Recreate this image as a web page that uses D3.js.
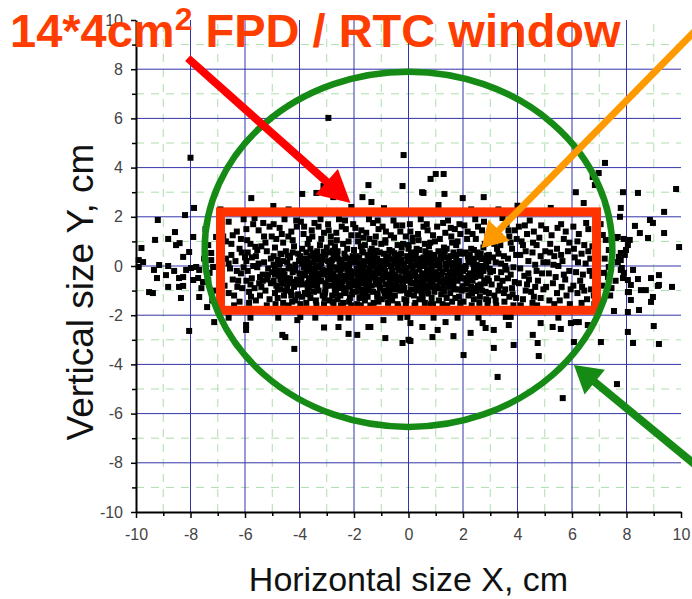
<!DOCTYPE html>
<html>
<head>
<meta charset="utf-8">
<script src="https://cdn.jsdelivr.net/npm/d3@7"></script>
<style>
  body { margin: 0; background: #fff; }
  svg { display: block; }
</style>
</head>
<body>
<svg id="chart" width="692" height="599"></svg>
<script>
// ---- axis setup ----
const xDomain = [-10, 10];
const yDomain = [-10, 10];
const majorTicks = [-10, -8, -6, -4, -2, 0, 2, 4, 6, 8, 10];
const minorTicks = [-9, -7, -5, -3, -1, 1, 3, 5, 7, 9];
const majorGrid = [-8, -6, -4, -2, 0, 2, 4, 6, 8];

// ---- beam spot hits (x, y in cm) ----
// dense core inside the detector window, grouped by 1 cm columns
const coreColumns = [
  [[-6.9,1.6],[-6.8,1.2],[-6.6,1.8],[-6.5,0.9],[-6.85,0.6],[-6.7,0.3],[-6.55,-0.1],[-6.9,-0.4],[-6.75,-0.8],[-6.6,-1.1],[-6.85,-1.4],[-6.4,-1.6],[-6.3,1.4],[-6.2,0.7],[-6.35,0.2],[-6.15,-0.3],[-6.25,-0.6],[-6.1,-0.9],[-6.4,-1.2],[-6.05,1.9],[-6.5,0.45],[-6.3,-0.2],[-6.6,0.1],[-6.2,-1.45],[-6.0,0.35],[-6.45,-0.55],[-6.05,-0.05],[-6.7,1.0],[-6.15,1.1]],
  [[-5.95,1.5],[-5.8,0.9],[-5.7,1.7],[-5.6,0.4],[-5.5,0.1],[-5.9,-0.2],[-5.75,-0.5],[-5.65,-0.9],[-5.45,-1.2],[-5.85,-1.5],[-5.3,1.2],[-5.2,0.6],[-5.15,-0.1],[-5.35,-0.35],[-5.05,-0.7],[-5.25,-1.0],[-5.1,1.6],[-5.4,0.8],[-5.55,-0.05],[-5.95,0.2],[-5.8,-0.75],[-5.6,-1.4],[-5.2,-1.6],[-5.05,0.3],[-5.5,1.45],[-5.9,0.55],[-5.35,-0.6],[-5.7,0.0],[-5.45,-0.45],[-5.15,-0.35],[-5.85,-1.05],[-5.25,0.95],[-5.65,1.95],[-5.0,-0.25],[-5.4,-0.85],[-5.75,0.35],[-5.1,-1.35],[-5.55,0.65],[-5.3,0.15],[-5.95,-0.6]],
  [[-4.95,1.7],[-4.85,1.1],[-4.7,0.5],[-4.6,0.2],[-4.9,-0.1],[-4.75,-0.4],[-4.65,-0.7],[-4.5,-1.0],[-4.8,-1.3],[-4.4,-1.6],[-4.3,1.4],[-4.2,0.8],[-4.35,0.35],[-4.15,0.05],[-4.25,-0.25],[-4.1,-0.55],[-4.45,-0.85],[-4.05,-1.15],[-4.55,1.9],[-4.9,0.75],[-4.6,-0.2],[-4.35,-0.5],[-4.7,-0.95],[-4.15,-1.4],[-4.8,0.25],[-4.5,0.6],[-4.25,1.05],[-4.95,-0.6],[-4.65,1.3],[-4.4,-0.1],[-4.05,0.5],[-4.85,-0.8],[-4.2,-0.85],[-4.55,-0.35],[-4.3,-1.2],[-4.75,0.05],[-4.1,1.6],[-4.6,-1.5],[-4.45,0.15],[-4.95,0.4],[-4.0,-0.3],[-4.7,-0.55],[-4.35,-0.7],[-4.15,-0.1],[-4.5,-0.6],[-4.8,-0.2],[-4.25,0.55],[-4.6,0.95],[-4.05,-0.75],[-4.9,-1.1]],
  [[-3.95,1.8],[-3.85,1.3],[-3.7,0.9],[-3.6,0.4],[-3.9,0.1],[-3.75,-0.2],[-3.65,-0.5],[-3.5,-0.8],[-3.8,-1.1],[-3.4,-1.4],[-3.3,1.6],[-3.2,1.1],[-3.35,0.6],[-3.15,0.25],[-3.25,-0.05],[-3.1,-0.35],[-3.45,-0.65],[-3.05,-0.95],[-3.55,1.45],[-3.9,0.7],[-3.6,-0.1],[-3.35,-0.3],[-3.7,-0.7],[-3.15,-1.2],[-3.8,0.3],[-3.5,0.15],[-3.25,0.85],[-3.95,-0.45],[-3.65,1.1],[-3.4,0.0],[-3.05,0.45],[-3.85,-0.75],[-3.2,-0.6],[-3.55,-0.4],[-3.3,-1.0],[-3.75,0.55],[-3.1,1.35],[-3.6,-1.3],[-3.45,0.35],[-3.95,0.2],[-3.0,-0.2],[-3.7,-0.95],[-3.35,-0.8],[-3.15,-0.15],[-3.5,-0.5],[-3.8,-0.3],[-3.25,0.35],[-3.6,0.7],[-3.05,-0.7],[-3.9,-1.25],[-3.45,1.75],[-3.1,-1.55],[-3.65,0.05],[-3.3,-0.45],[-3.85,-0.05],[-3.55,-0.25],[-3.2,0.1],[-3.75,-1.5],[-3.4,0.5],[-3.0,0.75]],
  [[-2.95,1.7],[-2.85,1.2],[-2.7,0.8],[-2.6,0.3],[-2.9,0.0],[-2.75,-0.3],[-2.65,-0.6],[-2.5,-0.9],[-2.8,-1.2],[-2.4,-1.5],[-2.3,1.5],[-2.2,1.0],[-2.35,0.5],[-2.15,0.15],[-2.25,-0.15],[-2.1,-0.45],[-2.45,-0.75],[-2.05,-1.05],[-2.55,1.9],[-2.9,0.55],[-2.6,-0.15],[-2.35,-0.4],[-2.7,-0.85],[-2.15,-1.3],[-2.8,0.25],[-2.5,0.05],[-2.25,0.7],[-2.95,-0.5],[-2.65,1.35],[-2.4,-0.05],[-2.05,0.4],[-2.85,-0.8],[-2.2,-0.7],[-2.55,-0.5],[-2.3,-1.1],[-2.75,0.45],[-2.1,1.25],[-2.6,-1.35],[-2.45,0.25],[-2.95,0.2],[-2.0,-0.25],[-2.7,-1.0],[-2.35,-0.9],[-2.15,-0.2],[-2.5,-0.35],[-2.8,-0.4],[-2.25,0.3],[-2.6,0.6],[-2.05,-0.6],[-2.9,-1.4],[-2.45,1.6],[-2.1,-1.6],[-2.65,-0.05],[-2.3,-0.55],[-2.85,-0.15],[-2.55,-0.7],[-2.2,-0.35],[-2.75,-1.55],[-2.4,0.9],[-2.0,0.65],[-2.5,-1.2],[-2.3,0.05],[-2.85,0.95],[-2.15,-0.85],[-2.7,-0.45]],
  [[-1.95,1.55],[-1.85,1.0],[-1.7,0.6],[-1.6,0.2],[-1.9,-0.1],[-1.75,-0.4],[-1.65,-0.7],[-1.5,-1.0],[-1.8,-1.3],[-1.4,-1.6],[-1.3,1.75],[-1.2,1.2],[-1.35,0.7],[-1.15,0.3],[-1.25,0.0],[-1.1,-0.3],[-1.45,-0.6],[-1.05,-0.9],[-1.55,1.35],[-1.9,0.4],[-1.6,-0.25],[-1.35,-0.45],[-1.7,-0.95],[-1.15,-1.25],[-1.8,0.1],[-1.5,0.45],[-1.25,0.95],[-1.95,-0.6],[-1.65,1.15],[-1.4,0.05],[-1.05,0.55],[-1.85,-0.85],[-1.2,-0.65],[-1.55,-0.55],[-1.3,-1.05],[-1.75,0.8],[-1.1,1.5],[-1.6,-1.4],[-1.45,0.25],[-1.95,0.15],[-1.0,-0.15],[-1.7,-1.15],[-1.35,-0.8],[-1.15,-0.1],[-1.5,-0.3],[-1.8,-0.2],[-1.25,0.45],[-1.6,0.85],[-1.05,-0.55],[-1.9,-1.05],[-1.45,1.9],[-1.1,-1.45],[-1.65,-0.05],[-1.3,-0.35],[-1.85,-0.45],[-1.55,-0.8],[-1.2,0.15],[-1.75,-1.6],[-1.4,0.6],[-1.0,0.9],[-1.5,-1.25],[-1.3,0.3],[-1.85,1.25],[-1.15,-0.75],[-1.7,-0.55]],
  [[-0.95,1.6],[-0.85,1.05],[-0.7,0.65],[-0.6,0.25],[-0.9,-0.05],[-0.75,-0.35],[-0.65,-0.65],[-0.5,-0.95],[-0.8,-1.25],[-0.4,-1.55],[-0.3,1.4],[-0.2,0.9],[-0.35,0.45],[-0.15,0.1],[-0.25,-0.2],[-0.1,-0.5],[-0.45,-0.8],[-0.05,-1.1],[-0.55,1.85],[-0.9,0.5],[-0.6,-0.2],[-0.35,-0.45],[-0.7,-0.9],[-0.15,-1.35],[-0.8,0.2],[-0.5,0.1],[-0.25,0.75],[-0.95,-0.55],[-0.65,1.25],[-0.4,-0.05],[-0.05,0.4],[-0.85,-0.75],[-0.2,-0.7],[-0.55,-0.5],[-0.3,-1.0],[-0.75,0.4],[-0.1,1.2],[-0.6,-1.4],[-0.45,0.3],[-0.95,0.2],[0.0,-0.3],[-0.7,-1.05],[-0.35,-0.85],[-0.15,-0.15],[-0.5,-0.35],[-0.8,-0.45],[-0.25,0.25],[-0.6,0.6],[-0.05,-0.6],[-0.9,-1.0],[-0.45,1.65],[-0.1,-1.6],[-0.65,0.0],[-0.3,-0.6],[-0.85,-0.2],[-0.55,-0.75],[-0.2,0.05],[-0.75,-1.5],[-0.4,0.85],[0.0,0.7],[-0.5,-1.2],[-0.3,0.15],[-0.85,0.95],[-0.15,-0.9],[-0.7,-0.6]],
  [[0.05,1.7],[0.15,1.15],[0.3,0.7],[0.4,0.3],[0.1,0.0],[0.25,-0.3],[0.35,-0.6],[0.5,-0.9],[0.2,-1.2],[0.6,-1.5],[0.7,1.45],[0.8,0.95],[0.65,0.5],[0.85,0.15],[0.75,-0.15],[0.9,-0.45],[0.55,-0.75],[0.95,-1.05],[0.45,1.9],[0.1,0.55],[0.4,-0.15],[0.65,-0.4],[0.3,-0.85],[0.85,-1.3],[0.2,0.25],[0.5,0.05],[0.75,0.8],[0.05,-0.5],[0.35,1.3],[0.6,0.0],[0.95,0.45],[0.15,-0.7],[0.8,-0.65],[0.45,-0.45],[0.7,-1.0],[0.25,0.45],[0.9,1.25],[0.4,-1.35],[0.55,0.35],[0.05,0.2],[1.0,-0.25],[0.3,-1.0],[0.65,-0.8],[0.85,-0.1],[0.5,-0.3],[0.2,-0.4],[0.75,0.3],[0.4,0.65],[0.95,-0.55],[0.1,-0.95],[0.55,1.6],[0.9,-1.55],[0.35,0.05],[0.7,-0.55],[0.15,-0.15],[0.45,-0.7],[0.8,0.1],[0.25,-1.5],[0.6,0.9],[0.0,0.85],[0.5,-1.15],[0.7,0.2],[0.15,1.0],[0.85,-0.85],[0.3,-0.55]],
  [[1.05,1.6],[1.15,1.1],[1.3,0.75],[1.4,0.35],[1.1,0.05],[1.25,-0.25],[1.35,-0.55],[1.5,-0.85],[1.2,-1.15],[1.6,-1.45],[1.7,1.5],[1.8,1.0],[1.65,0.55],[1.85,0.2],[1.75,-0.1],[1.9,-0.4],[1.55,-0.7],[1.95,-1.0],[1.45,1.85],[1.1,0.6],[1.4,-0.1],[1.65,-0.35],[1.3,-0.8],[1.85,-1.25],[1.2,0.3],[1.5,0.1],[1.75,0.85],[1.05,-0.45],[1.35,1.35],[1.6,0.05],[1.95,0.5],[1.15,-0.65],[1.8,-0.6],[1.45,-0.4],[1.7,-0.95],[1.25,0.5],[1.9,1.3],[1.4,-1.3],[1.55,0.4],[1.05,0.25],[2.0,-0.2],[1.3,-1.05],[1.65,-0.75],[1.85,-0.05],[1.5,-0.25],[1.2,-0.35],[1.75,0.35],[1.4,0.7],[1.95,-0.5],[1.1,-0.9],[1.55,1.55],[1.9,-1.5],[1.35,0.1],[1.7,-0.5],[1.15,-0.1],[1.45,-0.65],[1.8,0.15],[1.25,-1.55],[1.6,0.95]],
  [[2.05,1.65],[2.15,1.1],[2.3,0.7],[2.4,0.3],[2.1,0.0],[2.25,-0.3],[2.35,-0.6],[2.5,-0.9],[2.2,-1.2],[2.6,-1.5],[2.7,1.45],[2.8,0.9],[2.65,0.5],[2.85,0.1],[2.75,-0.2],[2.9,-0.5],[2.55,-0.8],[2.95,-1.1],[2.45,1.9],[2.1,0.55],[2.4,-0.15],[2.65,-0.4],[2.3,-0.85],[2.85,-1.35],[2.2,0.25],[2.5,0.05],[2.75,0.75],[2.05,-0.5],[2.35,1.3],[2.6,0.0],[2.95,0.45],[2.15,-0.7],[2.8,-0.7],[2.45,-0.45],[2.7,-1.0],[2.25,0.45],[2.9,1.2],[2.4,-1.35],[2.55,0.35],[3.0,-0.25],[2.3,-1.05],[2.65,-0.75],[2.85,-0.05],[2.5,-0.3],[2.2,-0.4],[2.75,0.3],[2.4,0.65],[2.95,-0.6],[2.1,-0.95],[2.55,1.6],[2.9,-1.6]],
  [[3.05,1.5],[3.15,0.9],[3.3,0.5],[3.4,0.1],[3.1,-0.2],[3.25,-0.5],[3.35,-0.8],[3.5,-1.1],[3.2,-1.4],[3.6,1.7],[3.7,1.2],[3.8,0.7],[3.65,0.3],[3.85,-0.05],[3.75,-0.35],[3.9,-0.65],[3.55,-0.95],[3.95,-1.3],[3.45,1.95],[3.1,0.35],[3.4,-0.25],[3.65,-0.5],[3.3,-1.0],[3.85,-1.6],[3.2,0.15],[3.5,0.4],[3.75,0.95],[3.05,-0.75],[3.35,1.2],[3.6,-0.15],[3.95,0.45],[3.15,-1.2],[3.8,-0.9],[3.45,-0.6],[3.7,-1.25],[3.25,0.7],[3.9,1.45],[3.55,0.0]],
  [[4.05,1.6],[4.15,1.0],[4.3,0.6],[4.4,0.2],[4.1,-0.1],[4.25,-0.4],[4.35,-0.75],[4.5,-1.05],[4.2,-1.35],[4.6,1.4],[4.7,0.85],[4.85,0.4],[4.65,0.05],[4.9,-0.3],[4.75,-0.6],[4.95,-0.95],[4.55,-1.5],[4.45,1.85],[4.1,0.45],[4.4,-0.3],[4.7,-0.2],[4.3,-1.0],[4.85,-1.3],[4.2,0.85],[4.55,0.55],[4.8,1.15],[4.05,-0.7],[4.65,-0.85],[4.95,0.15],[4.35,1.3],[4.6,-1.25]],
  [[5.05,1.5],[5.2,0.9],[5.35,0.4],[5.5,0.0],[5.15,-0.3],[5.3,-0.7],[5.45,-1.1],[5.6,1.7],[5.7,1.1],[5.85,0.6],[5.65,0.2],[5.9,-0.2],[5.75,-0.55],[5.95,-0.95],[5.55,-1.4],[5.1,0.15],[5.4,-0.45],[5.8,-1.2],[5.25,1.25],[5.6,0.45],[5.05,-0.85],[5.45,0.7],[5.9,0.95],[5.35,-1.55],[5.7,-0.35],[5.2,0.55]],
  [[6.05,1.6],[6.2,1.0],[6.35,0.5],[6.5,0.1],[6.15,-0.25],[6.3,-0.6],[6.45,-1.0],[6.6,1.5],[6.75,0.8],[6.85,0.3],[6.65,-0.2],[6.9,-0.55],[6.7,-0.95],[6.55,-1.35],[6.1,0.35],[6.4,-0.35],[6.8,-1.2],[6.25,1.3],[6.6,0.6],[6.05,-0.8],[6.45,0.85],[6.9,1.1],[6.35,-1.5],[6.75,-0.4],[6.2,-1.1]]
];

// extra hits in the darkest part of the spot
const coreDense = [[-4.9,-0.35],[-4.72,0.12],[-4.58,-0.72],[-4.42,0.42],[-4.31,-1.05],[-4.18,-0.18],[-4.02,0.22],[-3.93,-0.6],[-3.78,0.0],[-3.66,-0.88],[-3.52,0.52],[-3.44,-0.22],[-3.28,-0.62],[-3.17,0.38],[-3.06,-1.08],[-2.97,-0.28],[-2.83,0.08],[-2.71,-0.68],[-2.62,0.43],[-2.48,-0.12],[-2.36,-1.02],[-2.27,-0.47],[-2.12,0.28],[-2.03,-0.78],[-1.92,-0.32],[-1.81,0.33],[-1.73,-0.62],[-1.62,0.02],[-1.51,-0.98],[-1.43,-0.12],[-1.32,0.48],[-1.22,-0.52],[-1.13,-1.12],[-1.02,0.12],[-0.93,-0.38],[-0.82,0.38],[-0.73,-0.78],[-0.62,-0.02],[-0.52,0.52],[-0.43,-0.58],[-0.32,0.2],[-0.23,-0.98],[-0.12,-0.28],[-0.02,0.32],[0.08,-0.68],[0.18,0.02],[0.27,0.55],[0.38,-0.48],[0.48,-1.08],[0.57,0.15],[0.68,-0.22],[0.78,0.52],[0.88,-0.72],[0.97,0.02],[1.08,-0.38],[1.18,0.42],[1.28,-1.02],[1.38,-0.12],[1.48,0.22],[1.58,-0.58],[1.68,0.12],[1.78,-0.28],[1.88,0.58],[1.98,-0.82],[2.08,-0.12],[2.18,0.38],[2.28,-0.52],[2.38,0.08],[2.48,-1.02],[2.58,-0.18],[2.68,0.28],[2.78,-0.58],[2.88,0.42],[2.98,-0.12],
  [-4.95,0.05],[-4.8,-0.95],[-4.66,0.48],[-4.48,-0.5],[-4.36,-0.02],[-4.22,-0.65],[-4.08,-1.2],[-3.98,0.4],[-3.84,-0.38],[-3.71,0.18],[-3.58,-0.62],[-3.47,-1.05],[-3.36,0.25],[-3.22,-0.32],[-3.11,0.58],[-3.01,-0.8],[-2.88,-0.55],[-2.77,0.62],[-2.66,-1.12],[-2.53,0.2],[-2.42,-0.62],[-2.31,0.35],[-2.18,-0.05],[-2.07,-1.15],[-1.97,0.18],[-1.86,-0.68],[-1.77,-0.08],[-1.66,0.55],[-1.57,-0.42],[-1.46,-0.85],[-1.37,0.2],[-1.27,-0.25],[-1.17,0.62],[-1.07,-0.72],[-0.97,-0.12],[-0.87,-1.12],[-0.78,0.08],[-0.67,-0.42],[-0.57,0.28],[-0.47,-0.92],[-0.37,-0.18],[-0.27,0.5],[-0.17,-0.52],[-0.07,-0.08],[0.03,-1.15],[0.13,0.4],[0.22,-0.25],[0.33,-0.82],[0.43,0.22],[0.53,-0.55],[0.62,0.6],[0.72,-1.12],[0.83,-0.32],[0.93,0.32],[1.03,-0.82],[1.13,0.1],[1.23,-0.58],[1.33,0.58],[1.43,-0.42],[1.53,-1.1],[1.63,-0.15],[1.73,0.45],[1.83,-0.95],[1.93,-0.05],[2.03,0.52],[2.13,-0.65],[2.23,0.15],[2.33,-1.1],[2.43,-0.32],[2.53,0.55],[2.63,-0.8],[2.73,0.0],[2.83,-1.05],[2.93,0.2]];

// hits filling the upper and lower parts of the window
const coreFill = [[-6.45,1.25],[-6.28,-0.85],[-6.12,0.55],[-5.92,1.05],[-5.78,-1.25],[-5.62,0.78],[-5.48,-0.7],[-5.33,1.75],[-5.18,-0.55],[-5.02,1.2],[-4.88,-1.55],[-4.73,1.55],[-4.57,-1.2],[-4.41,1.2],[-4.27,-1.45],[-4.12,1.85],[-3.97,-1.55],[-3.83,1.6],[-3.68,-1.15],[-3.53,1.2],[-3.38,-1.6],[-3.23,1.9],[-3.08,-1.3],[-2.93,1.45],[-2.78,-1.45],[-2.63,1.05],[-2.48,-1.6],[-2.33,1.85],[-2.18,-1.45],[-2.03,1.7],[-1.88,-1.55],[-1.73,1.45],[-1.58,-1.2],[-1.43,1.1],[-1.28,-1.5],[-1.13,1.85],[-0.98,-1.35],[-0.83,1.4],[-0.68,-1.25],[-0.53,1.15],[-0.38,-1.65],[-0.23,1.65],[-0.08,-1.4],[0.07,1.4],[0.22,-1.6],[0.37,1.05],[0.52,-1.35],[0.67,1.7],[0.82,-1.55],[0.97,1.0],[1.12,-1.4],[1.27,1.75],[1.42,-1.6],[1.57,1.2],[1.72,-1.3],[1.87,1.7],[2.02,-1.45],[2.17,1.4],[2.32,-1.6],[2.47,1.1],[2.62,-1.25],[2.77,1.8],[2.92,-1.4],[3.07,1.1],[3.22,-1.6],[3.37,0.85],[3.52,-1.45],[3.67,1.45],[3.82,-1.15],[3.97,1.1],[4.12,-1.6],[4.27,1.65],[4.42,-0.55],[4.57,0.95],[4.72,-1.6],[4.87,1.65],[5.02,0.6],[5.17,-1.4],[5.32,0.05],[5.47,1.55],[5.62,-0.85],[5.77,1.4],[5.92,-1.55],[6.07,0.7],[6.22,0.15],[6.37,-0.85],[6.52,1.75],[6.67,0.3],[6.82,-1.55]];

// hits left and right of the window
const leftWing = [[-9.2,1.87],[-8.57,1.38],[-9.3,1.06],[-8.82,1.1],[-8.4,0.93],[-8.53,0.85],[-9.8,0.73],[-7.9,1.18],[-8.05,0.57],[-8.27,0.37],[-9.9,0.24],[-9.74,0.16],[-9.15,0.04],[-8.82,0.0],[-9.34,-0.16],[-9.9,-0.04],[-8.16,-0.16],[-7.98,-0.08],[-7.79,-0.04],[-7.68,-0.16],[-9.23,-0.49],[-8.9,-0.37],[-8.42,-0.49],[-8.27,-0.45],[-8.82,-0.85],[-8.42,-0.85],[-8.27,-0.81],[-9.52,-1.06],[-9.38,-1.1],[-7.9,-0.57],[-7.72,-0.49],[-7.54,-0.65],[-7.35,-0.57],[-8.35,-1.3],[-7.68,-1.26],[-7.39,-1.67],[-7.3,-0.28],[-7.17,-0.04],[-7.24,0.24],[-7.35,0.85],[-7.24,0.53],[-7.06,1.18],[-7.5,0.3],[-7.6,-0.9],[-8.6,-0.2],[-7.1,-1.0],[-7.45,1.5],[-7.2,-1.4]];
const rightWing = [[7.13,1.26],[7.24,1.06],[7.35,0.65],[7.35,-0.04],[7.17,-0.28],[7.32,-0.45],[7.5,1.18],[7.61,1.14],[7.72,0.37],[7.68,0.16],[7.79,-0.16],[7.9,-0.28],[7.68,1.18],[7.9,1.1],[8.12,1.06],[8.05,0.85],[7.98,0.65],[7.94,0.45],[7.79,0.53],[7.79,0.24],[7.83,-0.08],[7.87,-0.49],[8.05,-0.57],[8.16,-0.77],[8.05,-1.06],[8.16,-1.38],[8.24,-0.16],[8.42,-0.53],[8.9,-0.49],[9.19,-0.37],[9.19,-0.77],[9.67,-0.85],[8.53,-0.98],[8.97,-1.26],[8.9,-1.46],[8.46,-1.79],[7.54,-1.83],[8.05,-1.87],[8.09,-1.06],[8.71,-0.98],[9.15,-0.81],[7.76,2.0],[8.31,1.63],[8.49,1.34],[8.86,1.87],[8.97,1.75],[8.79,1.14],[9.38,1.34],[9.93,0.77],[7.1,-0.8],[7.4,-1.2],[7.2,0.3],[7.05,1.7],[7.45,-0.9],[7.6,-0.6]];

// hits above and below the window
const upperHalo = [[-5.77,2.76],[-7.87,2.36],[-8.2,2.07],[-4.96,2.44],[-3.12,3.25],[-3.38,2.97],[-3.9,2.93],[-2.76,2.8],[-1.47,3.29],[-1.69,2.8],[-1.36,2.6],[0.81,3.54],[1.0,3.74],[1.29,3.74],[0.5,3.0],[1.32,2.93],[1.1,2.48],[1.99,2.76],[2.76,2.8],[-0.18,4.51],[-0.22,3.25],[0.55,2.97],[5.22,2.36],[6.14,3.0],[6.43,2.56],[6.76,3.62],[6.98,3.78],[7.21,4.19],[6.84,3.29],[7.87,3.0],[8.42,2.97],[9.82,3.13],[9.38,2.2],[7.79,2.36],[-8.0,4.4],[-2.94,6.02],[-6.9,2.3],[-2.1,2.4],[4.0,2.45],[3.3,2.3],[-0.9,2.35],[2.3,2.3],[-4.4,2.3]];
const lowerHalo = [[-8.05,-2.64],[-7.13,-2.28],[-5.96,-2.4],[-5.96,-2.6],[-4.63,-2.8],[-4.52,-2.89],[-4.19,-3.37],[-2.2,-2.76],[-1.88,-2.8],[-0.92,-2.2],[-0.85,-2.93],[-0.22,-3.13],[-3.1,-2.5],[-2.57,-2.48],[-3.97,-2.07],[0.07,-2.32],[0.51,-2.48],[1.07,-2.6],[1.36,-2.28],[1.65,-2.85],[2.28,-2.72],[2.72,-2.32],[2.83,-2.52],[3.13,-2.6],[3.13,-3.33],[2.02,-3.62],[3.86,-3.21],[4.56,-2.8],[4.74,-3.13],[0.0,-3.0],[3.57,-2.07],[3.68,-2.4],[-1.4,-2.48],[0.07,-3.05],[0.88,-2.89],[3.27,-4.51],[4.78,-3.66],[5.29,-2.48],[5.59,-2.56],[5.96,-2.32],[6.25,-2.28],[6.58,-2.4],[6.07,-3.09],[5.66,-5.37],[7.06,-3.09],[7.65,-4.8],[8.05,-2.68],[8.24,-3.13],[9.0,-2.44],[9.19,-3.17],[-4.78,-2.1],[-4.08,-2.2],[-3.42,-2.1],[-6.6,-2.1],[-5.8,-2.1],[-2.5,-2.1],[-2.2,-2.1],[-1.47,-2.48],[-0.3,-2.1],[-0.04,-2.07],[0.92,-2.1],[1.8,-2.1],[2.57,-2.1],[3.75,-2.07],[4.85,-2.32],[5.5,-2.1],[6.14,-2.28]];

// ---- overlays (cm) ----
const windowX = [-6.9, 6.9];       // 14 cm
const windowY = [-1.8, 2.2];       // 4 cm
const ellipseCenter = [0, 0.68];
const ellipseRadii = [7.48, 7.22];
// arrows: [tailX, tailY, tipX, tipY]
const redArrow = [-8.1, 8.45, -2.13, 2.56];
const orangeArrow = [10.74, 9.81, 2.68, 0.73];
const greenArrow = [10.74, -8.28, 6.07, -4.02];

const titleMain = "14*4cm";
const titleSup = "2";
const titleRest = " FPD / RTC window";
const xTitle = "Horizontal size X, cm";
const yTitle = "Vertical size Y, cm";

// ---- drawing ----
const svg = d3.select("#chart");
const W = 692, H = 599;
const x = d3.scaleLinear().domain(xDomain).range([136, 681]);
const y = d3.scaleLinear().domain(yDomain).range([512, 20]);

svg.append("rect").attr("width", W).attr("height", H).attr("fill", "#fff");

// minor dashed grid
const g = svg.append("g");
g.selectAll(".mv").data(minorTicks).join("line")
  .attr("x1", d => x(d)).attr("x2", d => x(d))
  .attr("y1", y(yDomain[0])).attr("y2", y(yDomain[1]))
  .attr("stroke", "#acdeac").attr("stroke-width", 1).attr("stroke-dasharray", "8,7");
g.selectAll(".mh").data(minorTicks).join("line")
  .attr("y1", d => y(d)).attr("y2", d => y(d))
  .attr("x1", x(xDomain[0])).attr("x2", x(xDomain[1]))
  .attr("stroke", "#acdeac").attr("stroke-width", 1).attr("stroke-dasharray", "8,7");

// major grid
g.selectAll(".gv").data(majorGrid).join("line")
  .attr("x1", d => x(d)).attr("x2", d => x(d))
  .attr("y1", y(yDomain[0])).attr("y2", y(yDomain[1]))
  .attr("stroke", "#3434a8").attr("stroke-width", 1);
g.selectAll(".gh").data(majorGrid).join("line")
  .attr("y1", d => y(d)).attr("y2", d => y(d))
  .attr("x1", x(xDomain[0])).attr("x2", x(xDomain[1]))
  .attr("stroke", "#3434a8").attr("stroke-width", 1);

// hits
const allHits = [].concat(...coreColumns, coreDense, coreFill, leftWing, rightWing, upperHalo, lowerHalo);
const s = 6;
svg.append("g").selectAll("rect").data(allHits).join("rect")
  .attr("x", d => x(d[0]) - s / 2).attr("y", d => y(d[1]) - s / 2)
  .attr("width", s).attr("height", s).attr("fill", "#000");

// axes
const axisFont = "'Liberation Sans', Arial, sans-serif";
const fmt = d => String(d);
function styleAxis(sel) {
  sel.select(".domain").attr("stroke", "#000").attr("stroke-width", 2);
  sel.selectAll(".tick line").attr("stroke", "#000").attr("stroke-width", 1.5);
  sel.selectAll(".tick text").attr("fill", "#444").attr("font-size", 16).attr("font-family", axisFont);
}
const xAxisG = svg.append("g").attr("transform", `translate(0,${y(-10)})`)
  .call(d3.axisBottom(x).tickValues(majorTicks).tickSize(6).tickSizeOuter(0).tickPadding(11).tickFormat(fmt));
styleAxis(xAxisG);
const xMinorG = svg.append("g").attr("transform", `translate(0,${y(-10)})`)
  .call(d3.axisBottom(x).tickValues(minorTicks).tickSize(4).tickSizeOuter(0).tickFormat(""));
xMinorG.select(".domain").remove();
xMinorG.selectAll(".tick line").attr("stroke", "#000").attr("stroke-width", 1.5);

const yAxisG = svg.append("g").attr("transform", `translate(${x(-10)},0)`)
  .call(d3.axisLeft(y).tickValues(majorTicks).tickSize(5).tickSizeOuter(0).tickPadding(8).tickFormat(fmt));
styleAxis(yAxisG);
const yMinorG = svg.append("g").attr("transform", `translate(${x(-10)},0)`)
  .call(d3.axisLeft(y).tickValues(minorTicks).tickSize(4).tickSizeOuter(0).tickFormat(""));
yMinorG.select(".domain").remove();
yMinorG.selectAll(".tick line").attr("stroke", "#000").attr("stroke-width", 1.5);

// axis titles
svg.append("text").attr("x", x(0)).attr("y", 591).attr("text-anchor", "middle")
  .attr("font-family", axisFont).attr("font-size", 34).attr("fill", "#111").text(xTitle);
svg.append("text").attr("transform", `translate(93,292) rotate(-90)`).attr("text-anchor", "middle")
  .attr("font-family", axisFont).attr("font-size", 37).attr("fill", "#111").text(yTitle);

// detector window
svg.append("rect")
  .attr("x", x(windowX[0])).attr("y", y(windowY[1]))
  .attr("width", x(windowX[1]) - x(windowX[0])).attr("height", y(windowY[0]) - y(windowY[1]))
  .attr("fill", "none").attr("stroke", "#ff3300").attr("stroke-width", 9);

// acceptance ellipse
svg.append("ellipse")
  .attr("cx", x(ellipseCenter[0])).attr("cy", y(ellipseCenter[1]))
  .attr("rx", x(ellipseRadii[0]) - x(0)).attr("ry", y(0) - y(ellipseRadii[1]))
  .attr("fill", "none").attr("stroke", "#158a15").attr("stroke-width", 6.5);

// arrows
function arrow(a, color, width, headLen, headHalf) {
  const x0 = x(a[0]), y0 = y(a[1]), x1 = x(a[2]), y1 = y(a[3]);
  const dx = x1 - x0, dy = y1 - y0, L = Math.hypot(dx, dy);
  const ux = dx / L, uy = dy / L, px = -uy, py = ux;
  const bx = x1 - ux * headLen, by = y1 - uy * headLen;
  svg.append("line").attr("x1", x0).attr("y1", y0).attr("x2", bx + ux * 2).attr("y2", by + uy * 2)
    .attr("stroke", color).attr("stroke-width", width);
  svg.append("path")
    .attr("d", `M${x1},${y1}L${bx + px * headHalf},${by + py * headHalf}L${bx - px * headHalf},${by - py * headHalf}Z`)
    .attr("fill", color);
}
arrow(redArrow, "#ff0000", 8, 32, 17);
arrow(orangeArrow, "#ff9900", 7, 25, 15);
arrow(greenArrow, "#158a15", 8, 27, 16);

// title
const t = svg.append("text").attr("x", 10).attr("y", 47)
  .attr("font-family", axisFont).attr("font-weight", "bold").attr("font-size", 47).attr("fill", "#ff3d00");
t.append("tspan").text(titleMain);
t.append("tspan").attr("dy", -17).attr("font-size", 32).text(titleSup);
t.append("tspan").attr("dy", 17).text(titleRest);
</script>
</body>
</html>
